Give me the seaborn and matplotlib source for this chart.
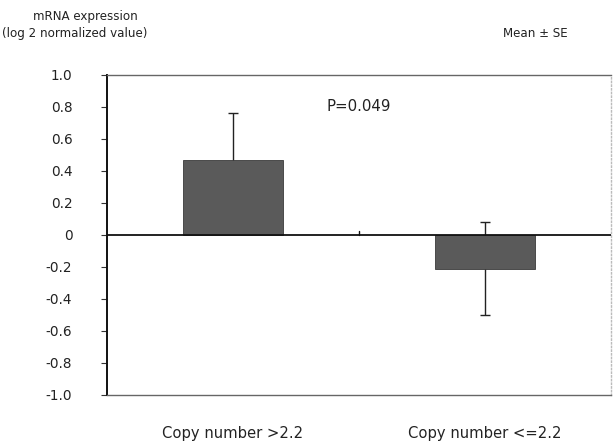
import matplotlib
matplotlib.use("Agg")
import matplotlib.pyplot as plt
import seaborn as sns
import pandas as pd

categories = ["Copy number >2.2", "Copy number <=2.2"]
means = [0.47, -0.21]
se = [0.29, 0.29]
yticks = [1.0, 0.8, 0.6, 0.4, 0.2, 0, -0.2, -0.4, -0.6, -0.8, -1.0]
ytick_labels = ["1.0", "0.8", "0.6", "0.4", "0.2", "0", "-0.2", "-0.4", "-0.6", "-0.8", "-1.0"]

sns.set_theme(style="white")
plt.rcParams['font.family'] = ['DejaVu Sans']

df = pd.DataFrame({"group": categories, "value": means})

fig = plt.figure(figsize=(6.13, 4.43), dpi=100)
ax = fig.add_axes([0.1746, 0.1084, 0.822, 0.7223])

sns.barplot(data=df, x="group", y="value", color="#5a5a5a", saturation=1,
            width=0.4, errorbar=None, ax=ax, edgecolor="#3a3a3a", linewidth=0.6,
            zorder=2)
ax.errorbar(range(len(categories)), means, yerr=se, fmt="none", ecolor="#222222",
            elinewidth=1.0, capsize=3.5, capthick=1.0, zorder=1)

ax.axhline(0, color="#111111", lw=1.3, zorder=4)
ax.axvline(0.5, ymin=0.5, ymax=0.512, color="#111111", lw=1.0)

ax.set_xlim(-0.5, 1.5)
ax.set_ylim(-1.0, 1.0)
ax.set_yticks(yticks)
ax.set_yticklabels(ytick_labels, fontsize=9.8, color="#222222")
ax.tick_params(axis="y", left=True, direction="out", length=4, width=0.8,
               pad=21, color="#333333")
ax.tick_params(axis="x", bottom=False, length=0, pad=22, labelsize=10.6, labelcolor="#222222")
ax.set_xlabel("")
ax.set_ylabel("")

ax.spines["left"].set_color("#111111")
ax.spines["left"].set_linewidth(1.4)
ax.spines["top"].set_color("#666666")
ax.spines["top"].set_linewidth(1.0)
ax.spines["bottom"].set_color("#666666")
ax.spines["bottom"].set_linewidth(1.0)
ax.spines["right"].set_color("#bbbbbb")
ax.spines["right"].set_linestyle(":")
ax.spines["right"].set_linewidth(1.0)

fig.text(0.139, 0.962, "mRNA expression", ha="center", va="center", fontsize=8.6, color="#222222")
fig.text(0.122, 0.925, "(log 2 normalized value)", ha="center", va="center", fontsize=8.6, color="#222222")
fig.text(0.874, 0.925, "Mean \u00b1 SE", ha="center", va="center", fontsize=8.6, color="#222222")
ax.text(0.5, 0.8, "P=0.049", ha="center", va="center", fontsize=10.8, color="#222222")

fig.savefig("out.png", dpi=100, facecolor="white")
